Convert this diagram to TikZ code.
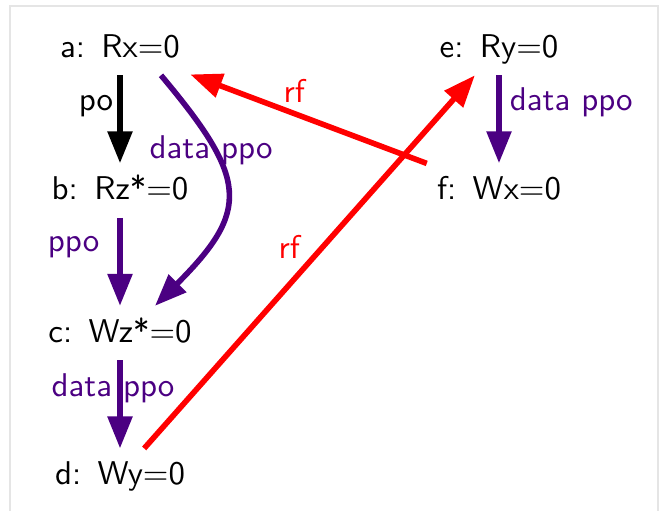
\documentclass[tikz,border=0pt]{standalone}
\usepackage{fontspec}
\usepackage{xcolor}
\usepackage{tikz}
\usetikzlibrary{arrows.meta, positioning}

\newfontfamily\evfont{lmsans10-regular.otf}
\definecolor{ppocol}{RGB}{75,0,130}

\begin{document}
\begin{tikzpicture}[
  >={Triangle[length=0.8cm, width=0.6cm]},
  node distance=2.2cm,
  event/.style={font=\fontsize{23.4}{28}\evfont, text height=0.65cm, text depth=0.2cm, inner sep=0.25cm},
  lbl/.style={font=\fontsize{23.4}{28}\evfont, inner sep=0.1cm},
  rel/.style={->, line width=0.14cm},
]
  \useasboundingbox (0,0) rectangle (16.475,-12.775);
  \draw[black!10, line width=0.05cm] (0.24,-12.775) |- (16.45,-0.14) -- (16.45,-12.775);

  \node[event] (a) at (3,-1.2) {a:\enspace Rx=0};
  \node[event, below=of a] (b) {b:\enspace Rz*=0};
  \node[event, below=of b] (c) {c:\enspace Wz*=0};
  \node[event, below=of c] (d) {d:\enspace Wy=0};
  \node[event] (e) at (12.475,-1.2) {e:\enspace Ry=0};
  \node[event, below=of e] (f) {f:\enspace Wx=0};

  \draw[rel] (a) -- node[lbl, left, pos=0.35]{po} (b);
  \draw[rel, color=ppocol] ([xshift=1.025cm]a.south) to[out=-50, in=45, looseness=1.5]
    node[lbl, pos=0.29, xshift=-0.1cm]{data ppo} ([xshift=0.875cm]c.north);
  \draw[rel, color=ppocol] (b) -- node[lbl, left=0.35cm, pos=0.33]{ppo} (c);
  \draw[rel, color=ppocol] (c) -- node[lbl, pos=0.32, xshift=-0.175cm]{data ppo} (d);
  \draw[rel, color=ppocol] (e) -- node[lbl, right=0.1cm, pos=0.31]{data ppo} (f);

  % reads-from
  \draw[rel, red] (f) -- node[lbl, above=0.1cm, pos=0.56]{rf} (a);
  \draw[rel, red] (d) -- node[lbl, left=0.4cm, pos=0.54]{rf} (e);
\end{tikzpicture}
\end{document}
